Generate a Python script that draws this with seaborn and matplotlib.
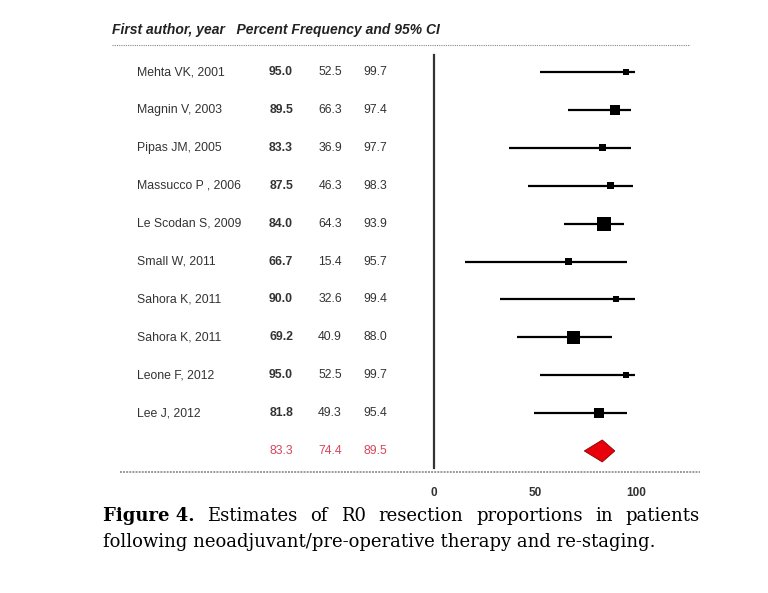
import numpy as np
import pandas as pd
import matplotlib
matplotlib.use("Agg")
import matplotlib.pyplot as plt
import matplotlib.transforms as mtransforms
from matplotlib.patches import Polygon
from matplotlib.lines import Line2D
import seaborn as sns

# Study data (percent frequency of R0 resection, 95% CI, relative weight)
studies = ["Mehta VK, 2001", "Magnin V, 2003", "Pipas JM, 2005", "Massucco P , 2006",
           "Le Scodan S, 2009", "Small W, 2011", "Sahora K, 2011", "Sahora K, 2011",
           "Leone F, 2012", "Lee J, 2012"]
estimate = [95.0, 89.5, 83.3, 87.5, 84.0, 66.7, 90.0, 69.2, 95.0, 81.8]
lower = [52.5, 66.3, 36.9, 46.3, 64.3, 15.4, 32.6, 40.9, 52.5, 49.3]
upper = [99.7, 97.4, 97.7, 98.3, 93.9, 95.7, 99.4, 88.0, 99.7, 95.4]
weight = [4.4, 12.3, 6.0, 6.0, 24.2, 6.0, 4.4, 20.9, 4.4, 11.1]

pooled_est = 83.3
pooled_low = 74.4
pooled_high = 89.5

xticks = [0, 50, 100]

header = "First author, year   Percent Frequency and 95% CI"
caption_bold = "Figure 4."
caption_line1 = "Estimates of R0 resection proportions in patients"
caption_line2 = "following neoadjuvant/pre-operative therapy and re-staging."


def main():
    sns.set_style("white")
    plt.rcParams["font.family"] = ["Liberation Sans", "DejaVu Sans"]

    df = pd.DataFrame({"study": studies, "est": estimate, "lo": lower,
                       "hi": upper, "w": weight})
    df["row"] = np.arange(len(df))
    pooled_row = len(df)

    W, H = 768, 593
    fig = plt.figure(figsize=(W / 100, H / 100), dpi=100)

    # forest panel: x=0 at px 434, ~2.02 px per percent
    x0_px, ppu = 434, 2.02
    xmax = 132
    top_px, bot_px = 55, 468
    ax = fig.add_axes([x0_px / W, 1 - bot_px / H, xmax * ppu / W, (bot_px - top_px) / H])

    ax.hlines(df["row"], df["lo"], df["hi"], color="black", lw=1.6, zorder=2)
    sns.scatterplot(data=df, x="est", y="row", size="w", sizes=(19, 102),
                    marker="s", color="black", linewidth=0, legend=False,
                    ax=ax, zorder=3)

    d_half = 0.29
    diamond = Polygon([[pooled_low, pooled_row], [pooled_est, pooled_row - d_half],
                       [pooled_high, pooled_row], [pooled_est, pooled_row + d_half]],
                      closed=True, facecolor="#e8000b", edgecolor="#8b0000", lw=0.6, zorder=3)
    ax.add_patch(diamond)

    ax.set_xlim(0, xmax)
    ax.set_ylim(pooled_row + 0.45, -0.45)
    ax.set_xticks(xticks)
    ax.set_xticklabels([str(t) for t in xticks], fontsize=8.5, fontweight="bold", color="#333333")
    ax.tick_params(axis="x", length=0, pad=14)
    ax.set_yticks([])
    ax.set_xlabel("")
    ax.set_ylabel("")
    for side in ["top", "right", "bottom"]:
        ax.spines[side].set_visible(False)
    ax.spines["left"].set_color("#333333")
    ax.spines["left"].set_linewidth(1.6)

    # text columns
    trans = mtransforms.blended_transform_factory(fig.transFigure, ax.transData)
    txt_kw = dict(transform=trans, va="center", fontsize=8.8, color="#333333")
    for _, r in df.iterrows():
        ax.text(137 / W, r["row"], r["study"], ha="left", **txt_kw)
        ax.text(293 / W, r["row"], f"{r['est']:.1f}", ha="right", fontweight="bold", **txt_kw)
        ax.text(342 / W, r["row"], f"{r['lo']:.1f}", ha="right", **txt_kw)
        ax.text(387 / W, r["row"], f"{r['hi']:.1f}", ha="right", **txt_kw)
    red_kw = dict(txt_kw, color="#d9455a")
    ax.text(293 / W, pooled_row, f"{pooled_est:.1f}", ha="right", **red_kw)
    ax.text(342 / W, pooled_row, f"{pooled_low:.1f}", ha="right", **red_kw)
    ax.text(387 / W, pooled_row, f"{pooled_high:.1f}", ha="right", **red_kw)

    # header and separators
    fig.text(112 / W, 1 - 30 / H, header, ha="left", va="center", fontsize=10,
             fontstyle="italic", fontweight="bold", color="#222222")
    fig.add_artist(Line2D([112 / W, 690 / W], [1 - 45 / H, 1 - 45 / H], color="#888888",
                          lw=0.8, ls=(0, (1, 1)), transform=fig.transFigure))
    fig.add_artist(Line2D([120 / W, 700 / W], [1 - 472 / H, 1 - 472 / H], color="#999999",
                          lw=1.4, ls=(0, (1, 0.6)), transform=fig.transFigure))

    # caption, first line justified
    serif = ["DejaVu Serif"]
    cap_size = 13
    left_px, right_px = 103, 700
    y1, y2 = 1 - 516 / H, 1 - 542 / H
    tokens = [(caption_bold, "bold")] + [(w, "normal") for w in caption_line1.split()]
    artists = [fig.text(0, y1, t, ha="left", va="center", fontsize=cap_size,
                        fontweight=fw, family=serif, color="black") for t, fw in tokens]
    renderer = fig.canvas.get_renderer()
    widths = [a.get_window_extent(renderer).width for a in artists]
    gap = (right_px - left_px - sum(widths)) / (len(widths) - 1)
    x = left_px
    for a, w in zip(artists, widths):
        a.set_x(x / W)
        x += w + gap
    fig.text(left_px / W, y2, caption_line2, ha="left", va="center", fontsize=cap_size,
             family=serif, color="black")

    fig.savefig("out.png", dpi=100)


if __name__ == "__main__":
    main()
